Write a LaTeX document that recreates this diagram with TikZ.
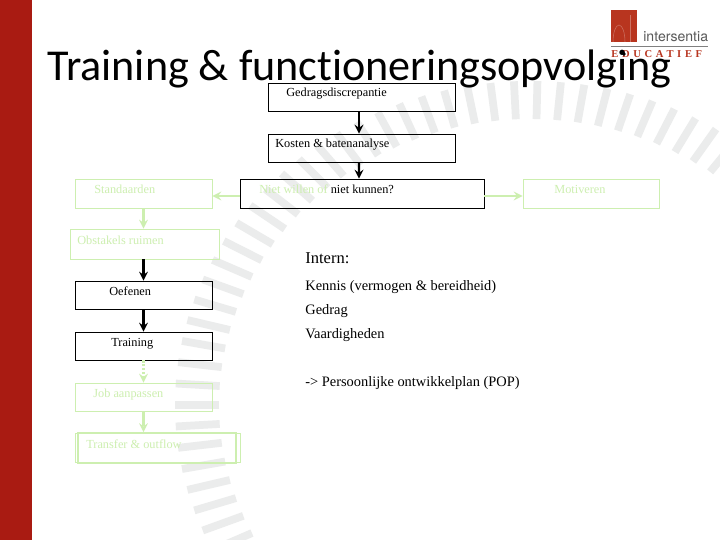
\documentclass[tikz,border=0pt]{standalone}
\usepackage{fontspec}
\usepackage{xcolor}
\setmainfont{Liberation Serif}
\newfontfamily\titlefont[Ligatures=NoCommon]{Carlito}
\newfontfamily\logofont{TeX Gyre Heros}
\newfontfamily\logoserif[LetterSpace=35]{Liberation Serif}
\definecolor{barred}{HTML}{A91B12}
\definecolor{logored}{HTML}{B8351F}
\definecolor{softgreen}{HTML}{CDEFB0}
\definecolor{tickgray}{HTML}{EBECEC}
\tikzset{
  blackbox/.style={draw=black, line width=0.5pt, minimum height=0.56cm, inner sep=0pt},
  greenbox/.style={draw=softgreen, line width=0.5pt, minimum height=0.58cm, inner sep=0pt},
  boxtext/.style={anchor=base west, inner sep=0pt, font=\fontsize{7}{8}\selectfont},
  bodytext/.style={anchor=base west, inner sep=0pt, font=\fontsize{8.2}{10}\selectfont},
  blackarrow/.style={-stealth, line width=1.2pt},
  greenarrow/.style={-stealth, softgreen, line width=1.2pt},
  swoosh/.style={tickgray, line width=4.4pt}
}
\begin{document}
\begin{tikzpicture}
            \clip (0,0) rectangle (14.4,10.8);
            \fill[white] (0,0) rectangle (14.4,10.8);
            %swoosh behind everything
            \foreach \a in {50.8,54.6,...,210}
              \draw[swoosh] ({10.6+6.22*cos(\a)},{2.7+5.72*sin(\a)})--({10.6+7.10*cos(\a)},{2.7+6.48*sin(\a)});
            \fill[barred] (0,0) rectangle (0.64,10.8);
            %logo
            \fill[logored] (12.22,9.96) rectangle (12.74,10.6);
            \draw[logored!70!white, line width=0.3pt] (12.26,9.96) arc (180:0:0.12 and 0.34);
            \draw[logored!70!white, line width=0.3pt] (12.6,9.96)--(12.6,10.5);
            \node[anchor=base west, inner sep=0pt, text=black!65, font=\logofont\fontsize{8}{10}\selectfont] (logoname) at (12.86,9.97) {intersentia};
            \draw[black!50, line width=0.4pt] (12.22,9.88)--(14.16,9.88);
            \node[anchor=base west, inner sep=0pt, text=logored, font=\logoserif\bfseries\fontsize{6}{7}\selectfont] (logoline) at (12.22,9.64) {EDUCATIEF};
            \fill (12.48,9.72) circle (1.1pt);
            %title
            \node[anchor=base west, inner sep=0pt, font=\titlefont\fontsize{25.1}{30}\selectfont] (title) at (0.94,9.18) {Training \& functioneringsopvolging};
            %boxes
            \node[blackbox, minimum width=3.74cm] (gedrag) at (7.23,8.86) {};
            \node[blackbox, minimum width=3.74cm] (kosten) at (7.23,7.84) {};
            \node[blackbox, minimum width=4.88cm, minimum height=0.58cm] (niet) at (7.24,6.93) {};
            \node[greenbox, minimum width=2.74cm] (standaarden) at (2.87,6.93) {};
            \node[greenbox, minimum width=2.72cm] (motiveren) at (11.82,6.93) {};
            \node[greenbox, minimum width=2.98cm, minimum height=0.6cm] (obstakels) at (2.89,5.92) {};
            \node[blackbox, minimum width=2.74cm] (oefenen) at (2.87,4.90) {};
            \node[blackbox, minimum width=2.74cm] (training) at (2.87,3.88) {};
            \node[greenbox, minimum width=2.74cm, minimum height=0.56cm] (job) at (2.87,2.86) {};
            \node[greenbox, minimum width=3.30cm] (transferout) at (3.15,1.84) {};
            \node[greenbox, minimum width=3.16cm, minimum height=0.6cm, line width=1pt] (transfer) at (3.14,1.84) {};
            %box texts
            \node[boxtext] (gedragtext) at (5.72,8.86) {Gedragsdiscrepantie};
            \node[boxtext] (kostentext) at (5.50,7.84) {Kosten \& batenanalyse};
            \node[boxtext] (niettext) at (5.18,6.92) {\textcolor{softgreen}{Niet willen of} niet kunnen?};
            \node[boxtext, text=softgreen] (standaardentext) at (1.88,6.92) {Standaarden};
            \node[boxtext, text=softgreen] (motiverentext) at (11.08,6.92) {Motiveren};
            \node[boxtext, text=softgreen] (obstakelstext) at (1.54,5.90) {Obstakels ruimen};
            \node[boxtext] (oefenentext) at (2.18,4.88) {Oefenen};
            \node[boxtext] (trainingtext) at (2.22,3.86) {Training};
            \node[boxtext, text=softgreen] (jobtext) at (1.86,2.84) {Job aanpassen};
            \node[boxtext, text=softgreen] (transfertext) at (1.72,1.82) {Transfer \& outflow};
            %arrows
            \draw[blackarrow] ([xshift=-0.05cm]gedrag.south)--([xshift=-0.05cm]kosten.north);
            \draw[blackarrow] ([xshift=-0.05cm]kosten.south)--([xshift=-0.06cm]niet.north);
            \draw[greenarrow] ([yshift=-0.05cm]niet.west)--([yshift=-0.05cm]standaarden.east);
            \draw[greenarrow] ([yshift=-0.05cm]niet.east)--([yshift=-0.05cm]motiveren.west);
            \draw[greenarrow] (standaarden.south)--(standaarden.south |- obstakels.north);
            \draw[blackarrow] (oefenen.north |- obstakels.south)--(oefenen.north);
            \draw[blackarrow] (oefenen.south)--(training.north);
            \draw[greenarrow, densely dotted] (training.south)--(job.north);
            \draw[greenarrow] (job.south)--(job.south |- transfer.north);
            %right text
            \node[bodytext, font=\fontsize{9.4}{11}\selectfont] (intern) at (6.10,5.52) {Intern:};
            \node[bodytext] (kennis) at (6.10,4.98) {Kennis (vermogen \& bereidheid)};
            \node[bodytext] (gedragline) at (6.10,4.50) {Gedrag};
            \node[bodytext] (vaardigheden) at (6.10,4.02) {Vaardigheden};
            \node[bodytext] (persoonlijk) at (6.10,3.06) {-> Persoonlijke ontwikkelplan (POP)};
        \end{tikzpicture}
\end{document}
